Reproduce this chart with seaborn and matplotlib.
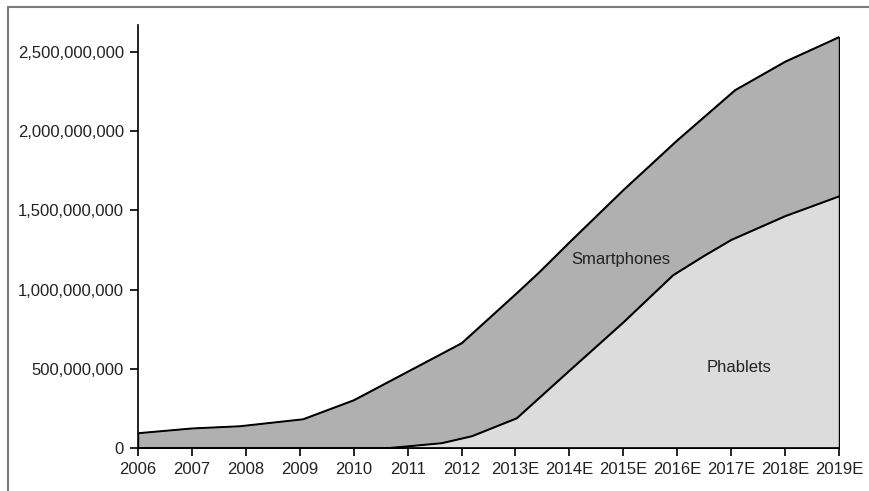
import numpy as np
import pandas as pd
import matplotlib
matplotlib.use('Agg')
import matplotlib.pyplot as plt
import matplotlib.ticker as mticker
from matplotlib.lines import Line2D
import seaborn as sns

# ── Dados (unidades) ──────────────────────────────────────────────────────────
YEAR_LABELS = ['2006', '2007', '2008', '2009', '2010', '2011', '2012', '2013E',
               '2014E', '2015E', '2016E', '2017E', '2018E', '2019E']

# curva superior (total: smartphones + phablets)
total_x = [0, 1, 1.89, 3.06, 4, 5, 6, 7, 7.44, 8, 9, 10, 11.07, 12, 13]
total_y = [95e6, 125e6, 139e6, 183e6, 303e6, 483e6, 663e6, 972e6, 1111e6,
           1300e6, 1630e6, 1944e6, 2260e6, 2440e6, 2595e6]

# curva inferior (phablets)
phab_x = [0, 4.6, 5, 5.63, 6.19, 7.02, 8, 9, 9.92, 10.5, 11, 12, 13]
phab_y = [0, 0, 12e6, 32e6, 76e6, 189e6, 490e6, 795e6, 1092e6, 1215e6,
          1315e6, 1465e6, 1590e6]

Y_TICKS = [0, 500e6, 1000e6, 1500e6, 2000e6, 2500e6]

DARK = '#b0b0b0'
LIGHT = '#dcdcdc'

# ── Figura ────────────────────────────────────────────────────────────────────
sns.set_style('ticks')
plt.rcParams['font.family'] = ['Liberation Sans', 'DejaVu Sans']

fig = plt.figure(figsize=(8.69, 4.91), dpi=100)
ax = fig.add_axes([138 / 869, 1 - 448 / 491, (839 - 138) / 869, (448 - 25) / 491])

df_total = pd.DataFrame({'x': total_x, 'y': total_y})
df_phab = pd.DataFrame({'x': phab_x, 'y': phab_y})

ax.fill_between(df_total['x'], 0, df_total['y'], facecolor=DARK,
                edgecolor='black', linewidth=1.0, zorder=1)
ax.fill_between(df_phab['x'], 0, df_phab['y'], facecolor=LIGHT,
                edgecolor='black', linewidth=1.0, zorder=2)
sns.lineplot(data=df_total, x='x', y='y', color='black', linewidth=1.0,
             ax=ax, zorder=3, sort=False)
sns.lineplot(data=df_phab, x='x', y='y', color='black', linewidth=1.0,
             ax=ax, zorder=3, sort=False)

ax.set_xlim(0, 13)
ax.set_ylim(0, 2.67e9)
ax.set_xticks(range(len(YEAR_LABELS)))
ax.set_xticklabels(YEAR_LABELS)
ax.set_yticks(Y_TICKS)
ax.yaxis.set_major_formatter(mticker.FuncFormatter(lambda v, p: f'{int(v):,}'))
ax.set_xlabel('')
ax.set_ylabel('')

sns.despine(ax=ax, top=True, right=True)
for s in ('left', 'bottom'):
    ax.spines[s].set_linewidth(1.2)
    ax.spines[s].set_color('black')
ax.tick_params(axis='both', direction='out', length=6, width=1.2,
               labelsize=12, colors='black', labelcolor='#222222', pad=4)

ax.text(8.95, 1.19e9, 'Smartphones', fontsize=12, color='#222222',
        ha='center', va='center', zorder=4)
ax.text(11.15, 0.51e9, 'Phablets', fontsize=12, color='#222222',
        ha='center', va='center', zorder=4)

# moldura cinza (recorte da imagem original)
fy = 1 - 7 / 491
fx = 8 / 869
fig.add_artist(Line2D([fx, fx], [0, fy], color='#7a7a7a', linewidth=1.5,
                      transform=fig.transFigure))
fig.add_artist(Line2D([fx, 1], [fy, fy], color='#7a7a7a', linewidth=1.5,
                      transform=fig.transFigure))

fig.savefig('out.png', dpi=100)
